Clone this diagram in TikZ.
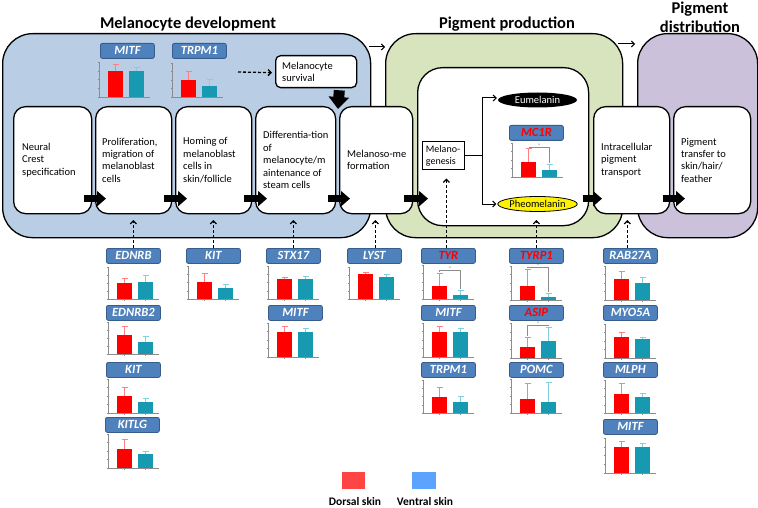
\documentclass[tikz,border=0pt]{standalone}
\usepackage{fontspec}
\setmainfont{Carlito}
\usetikzlibrary{arrows.meta,shapes.geometric,calc}
\definecolor{pblue}{HTML}{B9CDE5}
\definecolor{pgreen}{HTML}{D7E4BD}
\definecolor{ppurple}{HTML}{CCC1DA}
\definecolor{lblfill}{HTML}{4F81BD}
\definecolor{lbldraw}{HTML}{385D8A}
\definecolor{barred}{HTML}{FF0000}
\definecolor{barteal}{HTML}{1799B1}
\definecolor{errred}{HTML}{FF8080}
\definecolor{errteal}{HTML}{80D0E0}
\definecolor{axisgray}{HTML}{8C8C8C}
\definecolor{legred}{HTML}{FF4444}
\definecolor{legblue}{HTML}{5BA3FF}
\newcommand{\minichart}[7]{%
  \begin{scope}[shift={(#1,#2)}]
    \fill[barred] (9,0) rectangle (24,-#4);
    \fill[barteal] (30,0) rectangle (45,-#6);
    \draw[errred,line width=0.8pt] (16.5,-#4) -- (16.5,-#5) (13.5,-#5) -- (19.5,-#5);
    \draw[errteal,line width=0.8pt] (37.5,-#6) -- (37.5,-#7) (34.5,-#7) -- (40.5,-#7);
    \draw[axisgray,line width=0.6pt] (0,-#3) -- (0,0) -- (51,0);
    \foreach \t in {0,0.25,0.5,0.75,1} \draw[axisgray,line width=0.4pt] (-1.5,-\t*#3) -- (0,-\t*#3);
    \draw[axisgray,line width=0.4pt] (16.5,0) -- (16.5,1.5) (37.5,0) -- (37.5,1.5);
  \end{scope}}
\newcommand{\sigbr}[5]{%
  \begin{scope}[shift={(#1,#2)}]
    \draw[axisgray,line width=0.5pt] (16.5,-#4-1) -- (16.5,-#3) -- (37.5,-#3) -- (37.5,-#5-1);
    \node[font=\fontsize{5}{5}\selectfont,inner sep=0pt,text=black!70] at (27,-#3-1.5) {*};
  \end{scope}}
\begin{document}
\begin{tikzpicture}[x=1pt,y=-1pt,
  panel/.style={draw,line width=1.3pt,rounded corners=30pt,anchor=north west,inner sep=0pt},
  procbox/.style={draw,line width=1.3pt,fill=white,rounded corners=12pt,minimum height=107pt,anchor=north west,inner sep=0pt},
  boxtxt/.style={anchor=west,align=left,inner sep=0pt,font=\fontsize{10.5}{12.4}\selectfont},
  lbl/.style={draw=lbldraw,fill=lblfill,line width=0.8pt,rounded corners=2pt,minimum width=54pt,minimum height=15pt,inner sep=0pt,text=white,font=\fontsize{12.5}{13}\selectfont\bfseries\itshape,anchor=north west},
  redlbl/.style={lbl,text=red},
  blk/.style={line width=7pt,-{Triangle[length=9pt,width=15pt]}},
  thinarr/.style={line width=1pt,-{Straight Barb[length=3pt,width=6pt]}},
  dasharr/.style={line width=1.3pt,dash pattern=on 3pt off 2pt,-{Straight Barb[length=3pt,width=6pt]}},
  title/.style={font=\fontsize{16.5}{19}\selectfont\bfseries,align=center,inner sep=0pt}]
\useasboundingbox (0,0) rectangle (758,508);

% titles
\node[title] (t1) at (188,24) {Melanocyte development};
\node[title] (t2) at (507,24) {Pigment production};
\node[title] (t3) at (700,17) {Pigment\\distribution};

% panels
\node[panel,fill=pblue,minimum width=368pt,minimum height=204pt] (P1) at (2,33) {};
\node[panel,fill=pgreen,minimum width=237pt,minimum height=204pt] (P2) at (385,33) {};
\node[panel,fill=ppurple,minimum width=120pt,minimum height=204pt] (P3) at (637,33) {};
\node[panel,fill=white,rounded corners=25pt,minimum width=171pt,minimum height=158pt] (inner) at (417,67) {};

\draw[thinarr] ($(P1.north east)+(-2,14)$) -- ($(P2.north west)+(0,14)$);
\draw[thinarr] ($(P2.north east)+(-5,11)$) -- ($(P3.north west)+(-2,11)$);

% process boxes
\node[procbox,minimum width=78pt] (b1) at (13,106) {};
\node[procbox,minimum width=76pt] (b2) at (95,106) {};
\node[procbox,minimum width=76pt] (b3) at (175,106) {};
\node[procbox,minimum width=80pt] (b4) at (255,106) {};
\node[procbox,minimum width=73pt] (b5) at (339,106) {};
\node[procbox,minimum width=76pt] (b6) at (593,106) {};
\node[procbox,minimum width=77pt] (b7) at (673,106) {};
\node[boxtxt] at ($(b1.west)+(9,0)$) {Neural\\Crest\\specification};
\node[boxtxt] at ($(b2.west)+(7,0)$) {Proliferation,\\migration of\\melanoblast\\cells};
\node[boxtxt] at ($(b3.west)+(8,0)$) {Homing of\\melanoblast\\cells in\\skin/follicle};
\node[boxtxt] at ($(b4.west)+(8,0)$) {Differentia-tion\\of\\melanocyte/m\\aintenance of\\steam cells};
\node[boxtxt] at ($(b5.west)+(8,0)$) {Melanoso-me\\formation};
\node[boxtxt] at ($(b6.west)+(8,0)$) {Intracellular\\pigment\\transport};
\node[boxtxt] at ($(b7.west)+(8,0)$) {Pigment\\transfer to\\skin/hair/\\feather};

% survival box
\node[draw,line width=1.3pt,fill=white,rounded corners=5pt,minimum width=81pt,minimum height=32pt,anchor=north west,inner sep=0pt] (surv) at (275,55) {};
\node[boxtxt] at ($(surv.west)+(7,0)$) {Melanocyte\\survival};
\coordinate (ds) at (238,72);
\draw[dasharr] (ds) -- ($(surv.west)+(-3,1)$);
\draw[line width=11pt,-{Triangle[length=12pt,width=20pt]}] ($(surv.south east)+(-18,2)$) -- ($(b5.north west)+(-1,3)$);

% block arrows
\draw[blk] ($(b1.east)+(-8,38.5)$) -- ($(b2.west)+(11,38.5)$);
\draw[blk] ($(b2.east)+(-8,38.5)$) -- ($(b3.west)+(12,38.5)$);
\draw[blk] ($(b3.east)+(-8,38.5)$) -- ($(b4.west)+(12,38.5)$);
\draw[blk] ($(b4.east)+(-8,38.5)$) -- ($(b5.west)+(11,38.5)$);
\draw[blk] ($(b5.east)+(-9,38.5)$) -- ($(inner.west |- b5.west)+(11,38.5)$);
\draw[blk] ($(inner.east |- b6.west)+(-6,38.5)$) -- ($(b6.west)+(9,38.5)$);
\draw[blk] ($(b6.east)+(-7,38.5)$) -- ($(b7.west)+(12,38.5)$);

% melanogenesis
\node[draw,line width=1pt,fill=white,minimum width=42pt,minimum height=28pt,inner sep=2pt,align=left,font=\fontsize{10}{12.4}\selectfont] (mg) at (443,156) {Melano-\\genesis};
\node[ellipse,fill=black,text=white,minimum width=79pt,minimum height=15pt,inner sep=0pt,font=\fontsize{10.5}{12}\selectfont] (eu) at (537.5,100) {Eumelanin};
\node[ellipse,draw,line width=0.8pt,fill=yellow,minimum width=77pt,minimum height=15pt,inner sep=0pt,font=\fontsize{10.5}{12}\selectfont] (ph) at (537.5,204) {Pheomelanin};
\draw[line width=1pt] (mg.east) -- ++(18,0) coordinate (jn);
\draw[thinarr] (jn) |- ($(eu.west)+(-1,-2)$);
\draw[thinarr] (jn) |- ($(ph.west)+(-1,0)$);

% labels
\node[lbl] (tMITF) at (100,43) {MITF};
\node[lbl] (tTRPM1) at (172,43) {TRPM1};
\node[redlbl] (lMC1R) at (509,125) {MC1R};

\node[lbl] (lEDNRB) at (106,248) {EDNRB};
\node[lbl] (lEDNRB2) at (106,305) {EDNRB2};
\node[lbl] (lKITa) at (106,362) {KIT};
\node[lbl] (lKITLG) at (105,417) {KITLG};
\node[lbl] (lKITb) at (186,248) {KIT};
\node[lbl] (lSTX17) at (266,248) {STX17};
\node[lbl] (lMITFa) at (268,305) {MITF};
\node[lbl] (lLYST) at (347,248) {LYST};
\node[redlbl] (lTYR) at (421,248) {TYR};
\node[lbl] (lMITFb) at (421,305) {MITF};
\node[lbl] (lTRPM1) at (421,362) {TRPM1};
\node[redlbl] (lTYRP1) at (509,248) {TYRP1};
\node[redlbl] (lASIP) at (509,305) {ASIP};
\node[lbl] (lPOMC) at (509,362) {POMC};
\node[lbl] (lRAB) at (603,248) {RAB27A};
\node[lbl] (lMYO) at (603,305) {MYO5A};
\node[lbl] (lMLPH) at (603,362) {MLPH};
\node[lbl] (lMITFc) at (603,419) {MITF};

% dashed regulator arrows
\coordinate (tipy) at (0,220);
\draw[dasharr] (lEDNRB.north) -- (lEDNRB.north |- tipy);
\draw[dasharr] (lKITb.north) -- (lKITb.north |- tipy);
\draw[dasharr] (lSTX17.north) -- (lSTX17.north |- tipy);
\draw[dasharr] ($(lLYST.north)+(1,0)$) -- ($(lLYST.north |- tipy)+(1,0)$);
\draw[dasharr] ($(lTYR.north)+(-2,0)$) -- ($(lTYR.north |- mg.south)+(-2,8)$);
\draw[dasharr] (lTYRP1.north) -- (lTYRP1.north |- tipy);
\draw[dasharr] ($(lRAB.north)+(-3,0)$) -- ($(lRAB.north |- tipy)+(-3,0)$);

% charts
\minichart{99}{97}{35}{26}{33}{26}{30}
\minichart{172}{97}{34}{17}{26}{11}{18}
\minichart{512}{177}{34}{15}{29}{7}{13}
\sigbr{512}{177}{30}{29}{13}

\minichart{108}{299}{32}{16}{21}{17}{24}
\minichart{108}{354}{32}{19}{28}{12}{18}
\minichart{108}{413}{34}{17}{26}{11}{15}
\minichart{108}{468}{34}{19}{29}{14}{17}
\minichart{188}{299}{33}{17}{26}{11}{15}
\minichart{268}{299}{33}{20}{22}{20}{23}
\minichart{268}{357}{34}{25}{31}{25}{29}
\minichart{349}{299}{32}{25}{27}{22}{25}
\minichart{423}{299}{34}{13}{26}{4}{9}
\sigbr{423}{299}{29}{26}{9}
\minichart{423}{357}{34}{25}{31}{25}{29}
\minichart{423}{413}{33}{16}{26}{11}{17}
\minichart{511}{300}{34}{14}{31}{3}{7}
\sigbr{511}{300}{33}{31}{7}
\minichart{511}{358}{35}{11}{21}{17}{31}
\sigbr{511}{358}{33}{21}{31}
\minichart{511}{413}{34}{14}{30}{11}{31}
\minichart{605}{300}{34}{21}{29}{17}{23}
\minichart{605}{358}{34}{21}{26}{19}{21}
\minichart{605}{413}{33}{19}{30}{16}{20}
\minichart{605}{473}{35}{26}{32}{26}{30}

% legend
\node[fill=legred,minimum width=23pt,minimum height=17pt,inner sep=0pt] (legR) at (353.5,480.5) {};
\node[fill=legblue,minimum width=24pt,minimum height=17pt,inner sep=0pt] (legB) at (424,480.5) {};
\node[font=\fontsize{11.5}{12}\selectfont\bfseries,inner sep=0pt] at (355,501.5) {Dorsal skin};
\node[font=\fontsize{11.5}{12}\selectfont\bfseries,inner sep=0pt] at (425,501.5) {Ventral skin};
\end{tikzpicture}
\end{document}
